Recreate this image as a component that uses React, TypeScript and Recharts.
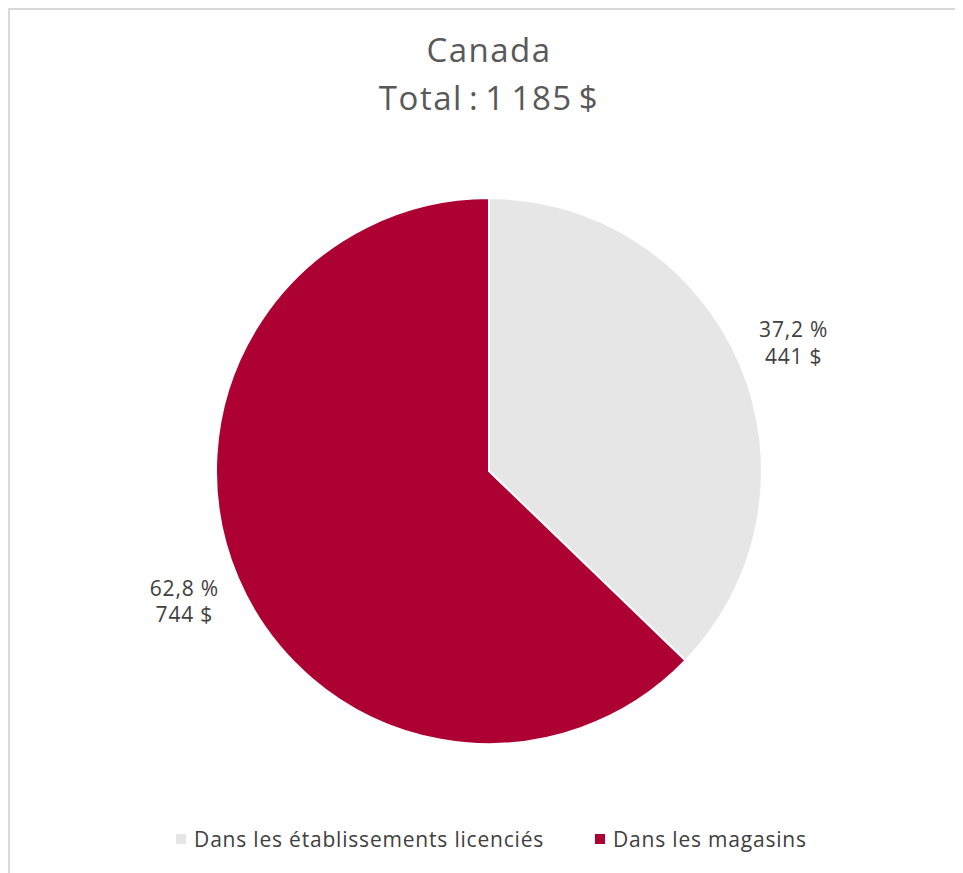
import { PieChart, Pie, Cell, Legend } from "recharts";

const categories = ["Dans les établissements licenciés", "Dans les magasins"];
const values = [441, 744];
const colors = ["#E7E6E6", "#AD0033"];
const chartTitle = "Canada";
const chartSubtitle = "Total : 1 185 $";

const total = values.reduce((s, v) => s + v, 0);
const data = categories.map((name, i) => ({ name, value: values[i] }));

const FONT = "'Open Sans', Roboto, sans-serif";
const RADIAN = Math.PI / 180;

function fmtPct(v: number) {
  return ((v / total) * 100).toFixed(1).replace(".", ",") + " %";
}

function SliceLabel(props: any) {
  const { cx, cy, midAngle, outerRadius, value } = props;
  const r = outerRadius + 58;
  const x = cx + r * Math.cos(-midAngle * RADIAN);
  const y = cy + r * Math.sin(-midAngle * RADIAN);
  return (
    <text
      x={x}
      y={y}
      textAnchor="middle"
      fill="#404040"
      fontSize={21}
      fontFamily={FONT}
      letterSpacing={0.8}
    >
      <tspan x={x} dy="-0.2em">
        {fmtPct(value)}
      </tspan>
      <tspan x={x} dy="1.25em">
        {value} $
      </tspan>
    </text>
  );
}

function LegendContent() {
  return (
    <div
      style={{
        display: "flex",
        justifyContent: "center",
        gap: 51,
        paddingLeft: 10,
        fontFamily: FONT,
        fontSize: 21,
        letterSpacing: 0.8,
        color: "#404040",
      }}
    >
      {categories.map((c, i) => (
        <span key={c} style={{ display: "flex", alignItems: "center" }}>
          <span
            style={{
              display: "inline-block",
              width: 10,
              height: 10,
              background: colors[i],
              marginRight: 8,
            }}
          />
          {c}
        </span>
      ))}
    </div>
  );
}

export default function App() {
  return (
    <div
      style={{
        position: "relative",
        width: 953,
        height: 863,
        borderLeft: "2px solid #D9D9D9",
        borderTop: "2px solid #D9D9D9",
        background: "#fff",
      }}
    >
      <div
        style={{
          position: "absolute",
          left: 0,
          width: 958,
          top: 16,
          textAlign: "center",
          fontFamily: FONT,
          fontSize: 33,
          lineHeight: "48px",
          letterSpacing: 1.5,
          color: "#595959",
        }}
      >
        <div>{chartTitle}</div>
        <div style={{ wordSpacing: -4 }}>{chartSubtitle}</div>
      </div>
      <div style={{ position: "absolute", left: 0, top: 0 }}>
        <PieChart width={953} height={863}>
          <Pie
            data={data}
            dataKey="value"
            nameKey="name"
            cx={474}
            cy={456}
            outerRadius={273}
            startAngle={90}
            endAngle={-270}
            stroke="#ffffff"
            strokeWidth={2}
            label={SliceLabel}
            labelLine={false}
            isAnimationActive={false}
          >
            {data.map((d, i) => (
              <Cell key={d.name} fill={colors[i]} />
            ))}
          </Pie>
          <Legend
            verticalAlign="bottom"
            content={LegendContent}
            wrapperStyle={{ bottom: 20 }}
          />
        </PieChart>
      </div>
    </div>
  );
}
